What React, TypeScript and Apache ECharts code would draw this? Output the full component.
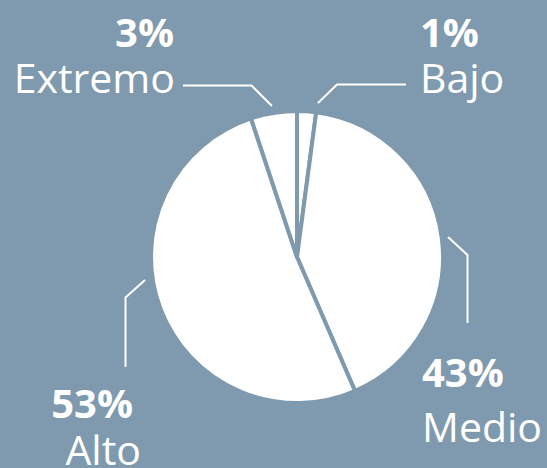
import React, { useEffect, useRef } from "react";
import * as echarts from "echarts";

// ---- data ----
const categories = ["Bajo", "Medio", "Alto", "Extremo"];
// slice shares as drawn in the picture (clockwise from 12 o'clock)
const sliceShares = [2.1, 41.4, 51.4, 5.1];
// percentages printed in the labels
const percentLabels = ["1%", "43%", "53%", "3%"];

// ---- layout / style ----
const BG = "#7f9aae";
const CENTER: [number, number] = [297, 257];
const RADIUS = 146;

type LabelPlace = {
  x: number;
  y: number;
  align: "left" | "right" | "center";
  nameLineHeight: number;
  pctPadRight: number;
  line: number[][];
};

const labelPlaces: LabelPlace[] = [
  { x: 420, y: 8, align: "left", nameLineHeight: 45, pctPadRight: 0, line: [[318, 103], [337, 84.5], [406, 84.5]] },
  { x: 422, y: 348, align: "left", nameLineHeight: 63, pctPadRight: 0, line: [[448, 237], [467.5, 255], [467.5, 323]] },
  { x: 141, y: 379.5, align: "right", nameLineHeight: 47, pctPadRight: 8, line: [[145, 280], [125.5, 297.5], [125.5, 367]] },
  { x: 175, y: 8.5, align: "right", nameLineHeight: 44, pctPadRight: 1, line: [[272, 106], [251.5, 85.5], [183, 85.5]] },
];

export default function App() {
  const ref = useRef<HTMLDivElement>(null);

  useEffect(() => {
    document.body.style.margin = "0";
    const chart = echarts.init(ref.current!, undefined, { renderer: "svg" });
    const data = categories.map((name, i) => ({
      name,
      value: sliceShares[i],
      label: {
        align: labelPlaces[i].align,
        rich: {
          p: {
            fontFamily: "Open Sans",
            fontWeight: "bold",
            fontSize: 40,
            lineHeight: 46,
            color: "#ffffff",
            padding: [0, labelPlaces[i].pctPadRight, 0, 0],
          },
          n: {
            fontFamily: "Open Sans",
            fontSize: 41,
            lineHeight: labelPlaces[i].nameLineHeight,
            color: "#ffffff",
          },
        },
      },
    }));

    chart.setOption({
      animation: false,
      backgroundColor: BG,
      series: [
        {
          type: "pie",
          center: CENTER,
          radius: RADIUS,
          startAngle: 90,
          clockwise: true,
          avoidLabelOverlap: false,
          silent: true,
          itemStyle: {
            color: "#ffffff",
            borderColor: BG,
            borderWidth: 4,
          },
          label: {
            show: true,
            position: "outside",
            formatter: (p: any) => `{p|${percentLabels[p.dataIndex]}}\n{n|${p.name}}`,
          },
          labelLine: {
            show: true,
            lineStyle: { color: "#ffffff", width: 2 },
          },
          labelLayout: (params: any) => {
            const lp = labelPlaces[params.dataIndex];
            return {
              x: lp.x,
              y: lp.y,
              align: lp.align,
              verticalAlign: "top",
              labelLinePoints: lp.line,
            };
          },
          data,
        },
      ],
    });
    return () => chart.dispose();
  }, []);

  return <div ref={ref} style={{ width: 547, height: 468 }} />;
}
